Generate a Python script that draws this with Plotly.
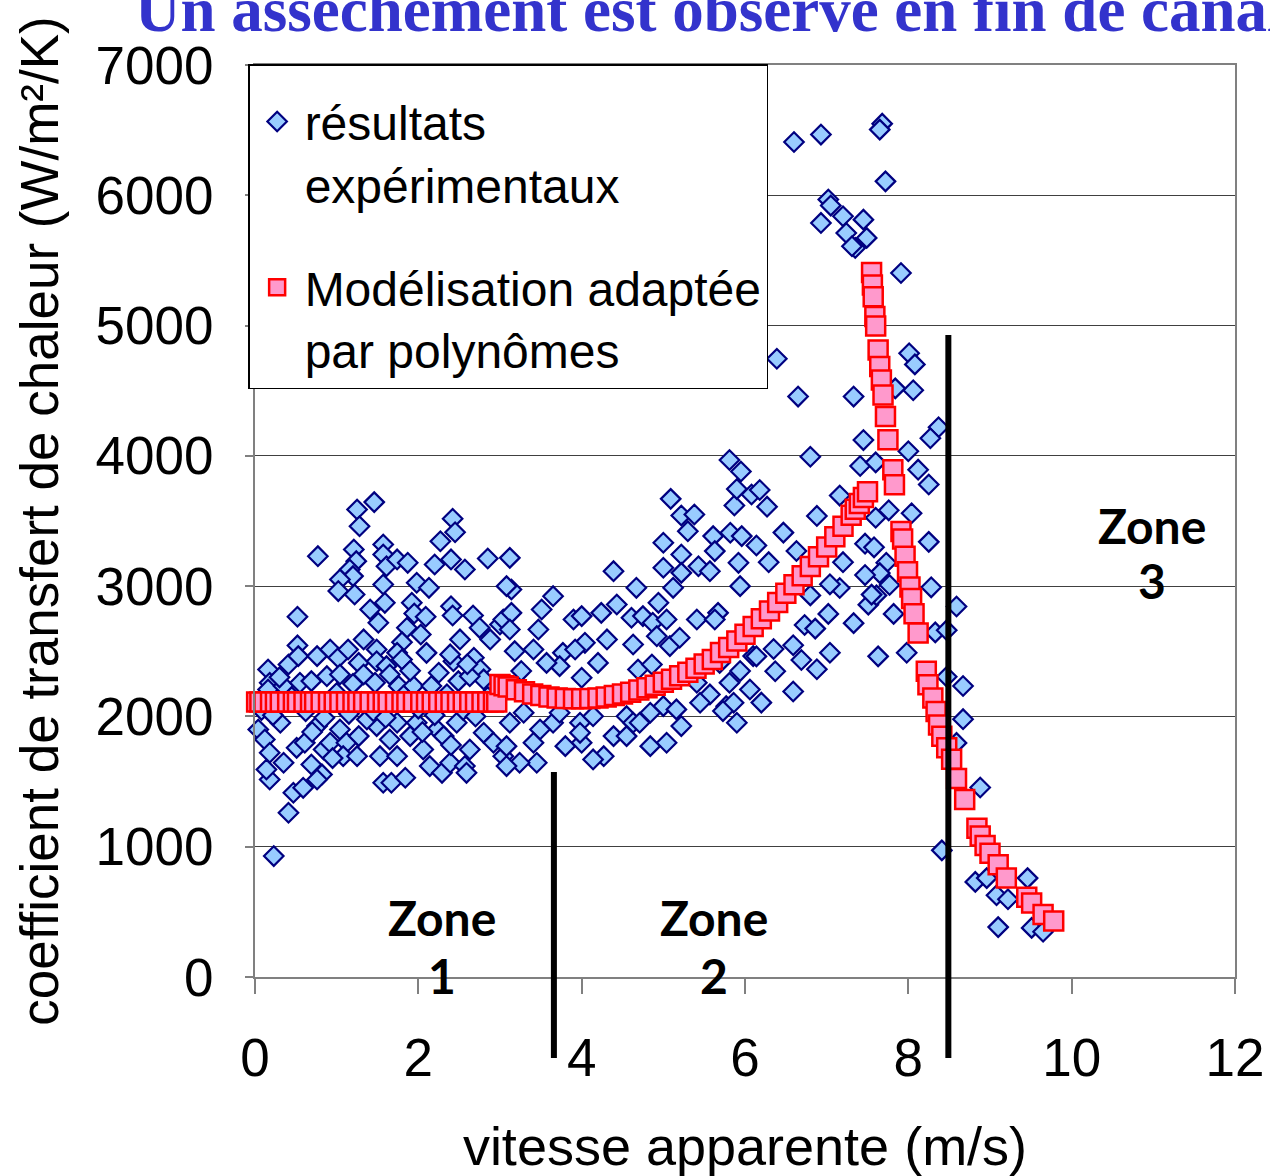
import plotly.graph_objects as go

# ---------------- data ----------------
exp_x = [
    # zone 1 (upper part)
    1.46, 1.25, 1.28, 0.77, 1.21, 1.24, 1.16, 1.20, 1.04, 1.02, 1.22, 1.57, 1.57, 1.61, 1.74, 1.87, 1.57, 1.59, 1.41, 1.51,
    0.52, 2.27, 2.42, 2.45, 2.20, 2.40, 2.57, 2.85, 1.98, 2.13, 1.92, 1.95, 2.09, 2.40, 2.42, 1.86, 2.03, 2.10, 1.33, 1.49,
    1.80, 2.67, 2.75, 2.51, 2.88, 2.43, 2.68, 3.00, 3.04, 0.16, 0.41, 0.52, 0.53, 0.76, 0.92, 1.02, 1.14, 1.27, 1.49, 1.61,
    1.74, 1.80, 2.25, 2.39, 2.76, 2.80, 0.18, 0.16, 0.35, 0.55, 0.69, 0.88, 1.04, 1.33, 1.47, 1.65, 1.76, 1.94, 2.16, 2.49,
    2.63, 2.96,
    # zone 1 (lower part)
    0.04, 0.12, 0.18, 0.18, 0.14, 0.35, 0.31, 0.51, 0.69, 0.61, 0.76, 0.84, 0.92, 0.82, 0.76, 0.47, 0.59, 0.41, 0.23, 1.04,
    1.12, 1.08, 1.25, 1.27, 1.49, 1.53, 1.65, 1.74, 1.57, 1.67, 1.84, 1.74, 1.90, 2.06, 2.14, 2.29, 2.39, 2.57, 2.59, 2.23,
    2.31, 2.47, 2.63, 2.80, 2.92, 3.04, 1.98, 1.37,
    0.08, 0.22, 0.45, 0.62, 0.85, 1.00, 1.15, 1.30, 1.45, 1.60, 1.82, 2.00, 2.20, 2.35, 2.55, 2.70, 2.85, 0.30, 1.90, 2.60,
    0.70, 1.20, 2.05, 2.40, 0.95,
    # zone 2
    5.09, 5.22, 5.38, 5.30, 5.87, 6.08, 5.00, 5.00, 5.22, 5.43, 5.61, 5.82, 5.96, 5.63, 5.57, 5.92, 5.94, 5.12, 5.22, 4.94,
    4.67, 4.39, 3.12, 3.14, 3.08, 3.65, 3.51, 3.47, 3.14, 3.12, 3.18, 3.41, 3.77, 3.90, 4.00, 4.04, 4.24, 4.43, 4.31, 4.61,
    4.63, 4.75, 4.87, 5.04, 5.08, 5.20, 4.92, 5.41, 5.67, 5.63, 4.69, 4.86, 4.20, 4.00, 3.73, 3.57, 3.26, 3.92, 5.28, 5.41,
    5.69, 5.81, 5.94, 6.06, 6.10, 5.57, 5.77, 5.86, 5.73, 5.90, 5.22, 5.00, 4.84, 5.04, 4.84, 4.55, 4.39, 4.27, 4.14, 4.00,
    3.80, 3.65, 3.49, 3.41, 3.45, 3.24, 3.08, 3.08, 3.12, 3.29, 3.73, 3.98, 4.14, 4.63, 4.55, 4.71, 5.45, 5.16, 3.98, 5.81,
    5.95, 5.90,
    # zone 2 end / zone 3
    6.39, 6.65, 7.33, 8.01, 8.08, 8.06, 7.84, 8.37, 8.27, 7.45, 6.80, 7.41, 7.60, 8.00, 8.12, 8.25, 7.16, 6.18, 6.27, 6.88,
    7.60, 7.76, 8.04, 8.25, 6.47, 6.14, 6.29, 6.63, 7.20, 7.47, 7.58, 7.73, 7.65, 7.47, 7.16, 7.04, 6.80, 6.73, 6.86, 7.02,
    7.33, 7.51, 7.61, 7.82, 8.28, 8.59, 8.33, 7.98, 7.63, 7.04, 6.88, 6.69, 6.59, 6.35, 6.14, 6.37, 6.59, 6.20, 8.47, 8.67,
    8.67, 8.59, 8.88, 8.41,
    6.60, 6.93, 7.68, 7.65, 7.72, 7.02, 7.05, 7.20, 7.45, 6.93, 7.24, 7.49, 7.35, 7.31, 7.91,
    7.77, 7.55, 8.47, 8.82, 8.96, 9.08, 9.22, 9.46, 9.10, 9.51, 9.65,
]
exp_y = [
    3645, 3588, 3460, 3230, 3281, 3192, 3128, 3077, 3051, 2962, 2936, 3320, 3243, 3153, 3205, 3179, 3013, 2872, 2821, 2719,
    2765, 3345, 3517, 3414, 3166, 3205, 3128, 3212, 3026, 2987, 2872, 2790, 2765, 2846, 2775, 2680, 2629, 2488, 2591, 2514,
    2570, 2775, 2680, 2591, 2591, 2424, 2450, 2706, 2744, 2360, 2399, 2545, 2463, 2463, 2514, 2450, 2514, 2411, 2424, 2386,
    2488, 2437, 2335, 2476, 2360, 2284, 2258, 2207, 2233, 2258, 2271, 2309, 2322, 2322, 2258, 2322, 2233, 2233, 2233, 2271,
    2309, 2156,
    1900, 1823, 1721, 1516, 1593, 1644, 1951, 1759, 1631, 1798, 1926, 1746, 1798, 1555, 1516, 1414, 1452, 1261, 928, 1900,
    1798, 1695, 1695, 1849, 1926, 1695, 1823, 1695, 1491, 1491, 1529, 1951, 1849, 1746, 1619, 1567, 1644, 1619, 1567, 1900,
    1849, 1951, 1746, 1874, 1798, 1695, 1951, 1977,
    2050, 2010, 2150, 2040, 1990, 2180, 2020, 2110, 2040, 1990, 2160, 2060, 2010, 2170, 2050, 2000, 2150, 2300, 2350, 2400,
    1880, 2250, 1880, 1780, 1680,
    3670, 3542, 3550, 3422, 3619, 3703, 3333, 3141, 3243, 3153, 3384, 3410, 3384, 3269, 3115, 3179, 3000, 2987, 3102, 2872,
    2987, 3115, 3217, 2974, 3000, 2923, 2821, 2667, 2795, 2667, 2501, 2514, 2488, 2744, 2770, 2565, 2795, 2859, 2591, 2757,
    2552, 2770, 2719, 2744, 2540, 2604, 2616, 2744, 2795, 2744, 2360, 2399, 2411, 2297, 2386, 2411, 2348, 2514, 2322, 2258,
    2411, 2258, 2348, 2207, 2463, 2169, 2079, 2105, 2041, 1951, 1926, 2079, 2028, 1798, 1772, 2002, 1849, 1695, 1670, 1798,
    1772, 1951, 1900, 1798, 1644, 1644, 1619, 1772, 1951, 2028, 2028, 1951, 2002, 1951, 1849, 1951, 2105, 2054, 1874, 3968,
    3880, 3745,
    4745, 4455, 4455, 4787, 4702, 4504, 4518, 4220, 4135, 4121, 3993, 3922, 3950, 4035, 3894, 3780, 3695, 3738, 3610, 3539,
    3525, 3582, 3559, 3340, 3411, 3312, 3184, 3270, 3184, 3326, 3298, 3180, 3100, 3085, 2986, 3014, 2929, 2702, 2674, 2787,
    2716, 2858, 2929, 2787, 2991, 2844, 2645, 2489, 2461, 2489, 2362, 2433, 2546, 2518, 2461, 2347, 2191, 2106, 2305, 2234,
    1979, 1797, 1454, 972,
    6409, 6466, 6550, 6504, 6107, 5967, 5921, 5839, 5813, 5788, 5711, 5673, 5596, 5609, 5404,
    3009, 2935, 2662, 730, 759, 627, 597, 759, 383, 377, 347,
]

# model (polynomial fit) - flat part, rising branch, dry-out branch
model_x = [
    0.02, 0.06, 0.11, 0.19, 0.25, 0.31, 0.40, 0.47, 0.52, 0.60, 0.68, 0.73, 0.81, 0.90, 0.97, 1.04, 1.12, 1.20, 1.26, 1.33,
    1.41, 1.50, 1.57, 1.63, 1.72, 1.80, 1.86, 1.94, 2.03, 2.10, 2.17, 2.25, 2.33, 2.40, 2.48, 2.55, 2.63, 2.70, 2.78, 2.85,
    2.92, 2.96,
    3.00, 3.05, 3.10, 3.20, 3.30, 3.40, 3.50, 3.60, 3.70, 3.80, 3.90, 4.00, 4.10, 4.20, 4.30, 4.40, 4.50, 4.60, 4.70, 4.80,
    4.90, 5.00, 5.10, 5.20, 5.30, 5.40, 5.50, 5.60, 5.70, 5.80, 5.90, 6.00, 6.10, 6.20, 6.30, 6.40, 6.50, 6.60, 6.70, 6.80,
    6.90, 7.00, 7.10, 7.20, 7.30, 7.35, 7.40, 7.45, 7.50,
    7.55, 7.56, 7.57, 7.59, 7.60, 7.63, 7.65, 7.67, 7.69, 7.72, 7.75, 7.81, 7.83, 7.91, 7.93, 7.96, 7.99, 8.02, 8.04, 8.07,
    8.12, 8.22, 8.24, 8.30, 8.34, 8.37, 8.41, 8.47, 8.53, 8.59, 8.69, 8.84, 8.88, 8.94, 9.00, 9.10, 9.20, 9.45, 9.51, 9.65,
    9.78,
]
model_y = [2110] * 42 + [
    2245, 2235, 2225, 2205, 2190, 2172, 2160, 2150, 2142, 2137, 2135, 2135, 2137, 2142, 2150, 2160, 2172, 2186, 2202, 2220,
    2240, 2262, 2286, 2312, 2340, 2370, 2402, 2437, 2490, 2530, 2578, 2630, 2690, 2750, 2810, 2875, 2945, 3010, 3080, 3150,
    3225, 3300, 3380, 3460, 3545, 3590, 3635, 3680, 3725,
    5407, 5312, 5222, 5069, 4997, 4813, 4685, 4583, 4468, 4302, 4123, 3893, 3778, 3420, 3362, 3230, 3110, 2994, 2906, 2788,
    2641, 2347, 2244, 2141, 2038, 1935, 1847, 1759, 1671, 1524, 1362, 1141, 1082, 1009, 950, 862, 759, 612, 568, 479,
    429,
]

zone_bounds = [3.66, 8.49]
zone_bound_tops = [1573, 4927]
zone_numbers = ["1", "2", "3"]
zone_label_x = [2.29, 5.62, 10.98]
zone_word_y = [453, 453, 3469]
zone_number_y = [15, 15, 3047]

title_text = "Un assèchement est observé en fin de canal"
x_title = "vitesse apparente (m/s)"
y_title = "coefficient de transfert de chaleur (W/m²/K)"

Y_MAX = 7000

fig = go.Figure()
fig.add_trace(go.Scatter(
    x=exp_x, y=exp_y, mode="markers", name="résultats<br>expérimentaux",
    legendgroup="a", cliponaxis=False,
    marker=dict(symbol="diamond", size=15, color="#99CCFF",
                line=dict(color="#000080", width=2.2)),
))
fig.add_trace(go.Scatter(
    x=model_x, y=model_y, mode="markers", name="Modélisation adaptée<br>par polynômes",
    legendgroup="b", cliponaxis=False,
    marker=dict(symbol="square", size=19, color="#FF99CC",
                line=dict(color="#FF0000", width=2.5)),
))

for xb, top in zip(zone_bounds, zone_bound_tops):
    fig.add_shape(type="line", xref="x", yref="paper", x0=xb, x1=xb,
                  y0=-0.0888, y1=top / Y_MAX, line=dict(color="black", width=6))

zone_font = dict(family="Comic Sans MS, Lato, sans-serif", size=48, color="black", weight="bold")
for num, xx, yw, yn in zip(zone_numbers, zone_label_x, zone_word_y, zone_number_y):
    fig.add_annotation(x=xx, y=yw, xref="x", yref="y", text="Zone", showarrow=False,
                       font=zone_font, xanchor="center", yanchor="middle")
    fig.add_annotation(x=xx, y=yn, xref="x", yref="y", text=num, showarrow=False,
                       font=zone_font, xanchor="center", yanchor="middle")

fig.add_annotation(x=-0.1245, y=1.0195, xref="paper", yref="paper", text=title_text,
                   showarrow=False, xanchor="left", yanchor="bottom",
                   font=dict(family="Liberation Serif, Times New Roman, serif", size=63,
                             color="#3333CC", weight="bold"))

fig.update_layout(
    width=1270, height=1176,
    margin=dict(l=255, r=35, t=65, b=199),
    plot_bgcolor="white", paper_bgcolor="white",
    font=dict(family="Liberation Sans, Arial, sans-serif", color="black"),
    showlegend=True,
    legend=dict(x=-0.007, y=1.001, xanchor="left", yanchor="top",
                bgcolor="white", bordercolor="black", borderwidth=1.5,
                font=dict(size=48), tracegroupgap=38, valign="top", itemwidth=45,
                title=dict(text=" ", font=dict(size=14))),
)
fig.update_xaxes(
    range=[0, 12], dtick=2, tick0=0, ticks="outside", ticklen=15, tickwidth=2,
    tickcolor="#808080", showline=True, linecolor="#808080", linewidth=2, mirror=True,
    showgrid=False, zeroline=False, tickfont=dict(size=53), automargin=False,
    ticklabelstandoff=18,
    title=dict(text=x_title, font=dict(size=54), standoff=42),
)
fig.update_yaxes(
    range=[0, Y_MAX], dtick=1000, tick0=0, ticks="outside", ticklen=8, tickwidth=2,
    tickcolor="#808080", showline=True, linecolor="#808080", linewidth=2, mirror=True,
    showgrid=True, gridcolor="#404040", gridwidth=1, zeroline=False,
    tickfont=dict(size=53), automargin=False, ticklabelstandoff=21,
    title=dict(text=y_title, font=dict(size=53), standoff=20),
)

fig.write_html("out.html", config={"displayModeBar": False},
               post_script="document.body.style.margin='0px';")
